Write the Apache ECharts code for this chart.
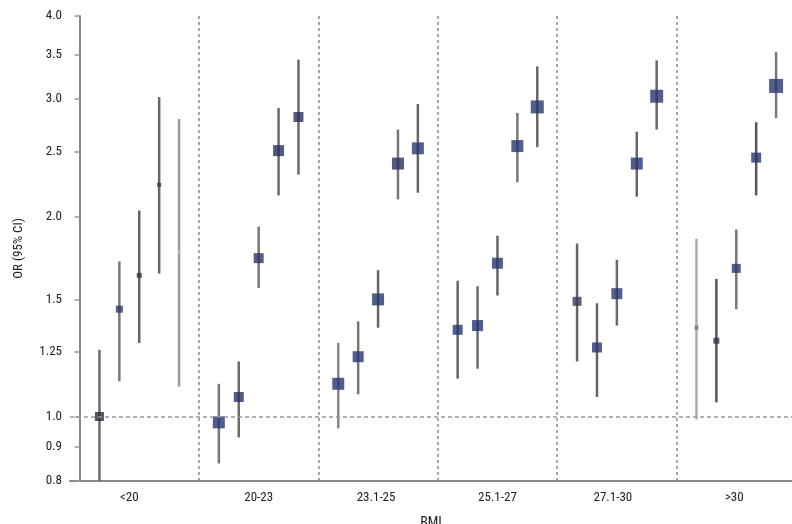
<!DOCTYPE html>
<html>
<head>
<meta charset="utf-8">
<script src="https://cdn.jsdelivr.net/npm/echarts@6/dist/echarts.min.js"></script>
<style>html,body{margin:0;padding:0;background:#fff;}#c{width:792px;height:524px;}</style>
</head>
<body>
<div id="c"></div>
<script>
// ---- data ----
var categories = ['<20', '20-23', '23.1-25', '25.1-27', '27.1-30', '>30'];
var orEst = [
  [1.00, 1.45, 1.63, 2.23, 1.77],
  [0.98, 1.07, 1.73, 2.51, 2.82],
  [1.12, 1.23, 1.50, 2.40, 2.53],
  [1.35, 1.37, 1.70, 2.55, 2.92],
  [1.49, 1.27, 1.53, 2.40, 3.03],
  [1.36, 1.30, 1.67, 2.45, 3.14]
];
var ciLow = [
  [0.80, 1.13, 1.29, 1.64, 1.11],
  [0.85, 0.93, 1.56, 2.15, 2.31],
  [0.96, 1.08, 1.36, 2.12, 2.17],
  [1.14, 1.18, 1.52, 2.25, 2.54],
  [1.21, 1.07, 1.37, 2.14, 2.70],
  [0.99, 1.05, 1.45, 2.15, 2.81]
];
var ciHigh = [
  [1.26, 1.71, 2.04, 3.02, 2.80],
  [1.12, 1.21, 1.93, 2.91, 3.44],
  [1.29, 1.39, 1.66, 2.70, 2.95],
  [1.60, 1.57, 1.87, 2.86, 3.36],
  [1.82, 1.48, 1.72, 2.68, 3.43],
  [1.85, 1.61, 1.91, 2.77, 3.53]
];
var yTicks = [0.8, 0.9, 1.0, 1.25, 1.5, 2.0, 2.5, 3.0, 3.5, 4.0];
var yTickLabels = ['0.8', '0.9', '1.0', '1.25', '1.5', '2.0', '2.5', '3.0', '3.5', '4.0'];
var referenceOR = 1.0;

// ---- styles (not data) ----
var markerSize = [
  [9, 7, 5, 4, 3],
  [12, 10, 10, 11, 10],
  [12, 11, 12, 12, 12],
  [10, 11, 11, 12, 13],
  [9, 10, 11, 12, 13],
  [4, 6, 9, 10, 14]
];
var navy = '#283670';
var markerColor = [
  ['#2b2b3a', '#33336a', '#3a3a4a', '#3a3a3a', '#c8c8c8'],
  [navy, '#2e2f66', '#2f3068', '#2b2f63', '#2e2e5e'],
  [navy, navy, navy, '#2a2f5e', navy],
  [navy, navy, navy, navy, navy],
  ['#363a55', navy, navy, navy, navy],
  ['#777777', '#333340', navy, navy, navy]
];
var lineColor = [
  ['#6a6a6a', '#777777', '#666666', '#666666', '#999999'],
  ['#777777', '#6a6a6a', '#777777', '#6a6a6a', '#6a6a6a'],
  ['#888888', '#777777', '#666666', '#777777', '#666666'],
  ['#666666', '#6a6a6a', '#666666', '#777777', '#6a6a6a'],
  ['#666666', '#666666', '#6a6a6a', '#666666', '#6a6a6a'],
  ['#aaaaaa', '#555555', '#777777', '#555555', '#777777']
];

var nPer = 5, groupSpan = 6;
function xPos(g, k) { return g * groupSpan + k + 1; }
var boundaries = [];
for (var b = 1; b < categories.length; b++) boundaries.push(b * groupSpan);
var catLabelPos = [2.5, 9, 14.9, 21, 26.8, 32.9];

var ciData = [], ptData = [];
for (var g = 0; g < categories.length; g++) {
  for (var k = 0; k < nPer; k++) {
    ciData.push({ value: [xPos(g, k), Math.log(ciLow[g][k]), Math.log(ciHigh[g][k])], g: g, k: k });
    ptData.push({
      value: [xPos(g, k), Math.log(orEst[g][k])],
      symbolSize: markerSize[g][k],
      itemStyle: { color: markerColor[g][k] }
    });
  }
}
var ciMeta = ciData.map(function (d) { return lineColor[d.g][d.k]; });

var font = "'Liberation Sans Narrow', 'Roboto Condensed', 'Liberation Sans', sans-serif";
var yLog = yTicks.map(function (v) { return Math.log(v); });

var chart = echarts.init(document.getElementById('c'), null, { renderer: 'canvas' });
chart.setOption({
  animation: false,
  backgroundColor: '#ffffff',
  grid: { left: 70, right: 0, top: 16, bottom: 43, containLabel: false, outerBoundsMode: 'none' },
  xAxis: {
    type: 'value',
    min: -0.48,
    max: 35.8,
    name: 'BMI',
    nameLocation: 'middle',
    nameGap: 35,
    nameTextStyle: { fontFamily: font, fontSize: 14, color: '#222' },
    splitLine: { show: false },
    axisLine: { show: true, onZero: false, lineStyle: { color: '#888', width: 2 } },
    axisTick: { show: false },
    axisLabel: {
      customValues: catLabelPos,
      fontFamily: font, fontSize: 13, color: '#222', margin: 10,
      formatter: function (v) {
        var best = 0;
        for (var j = 1; j < catLabelPos.length; j++) if (Math.abs(catLabelPos[j] - v) < Math.abs(catLabelPos[best] - v)) best = j;
        return categories[best];
      }
    }
  },
  yAxis: {
    type: 'value',
    min: Math.log(0.8),
    max: Math.log(4.0),
    name: 'OR (95% CI)',
    nameLocation: 'middle',
    nameGap: 45,
    nameRotate: 90,
    nameTextStyle: { fontFamily: font, fontSize: 13, color: '#222' },
    splitLine: { show: false },
    axisLine: { show: true, lineStyle: { color: '#888', width: 2 } },
    axisTick: { show: true, customValues: yLog, length: 5, lineStyle: { color: '#999', width: 1.5 } },
    axisLabel: {
      customValues: yLog,
      fontFamily: font, fontSize: 13, color: '#222', margin: 8,
      formatter: function (v) {
        var best = 0;
        for (var j = 1; j < yLog.length; j++) if (Math.abs(yLog[j] - v) < Math.abs(yLog[best] - v)) best = j;
        return yTickLabels[best];
      }
    }
  },
  series: [
    {
      type: 'custom',
      clip: true,
      data: ciData,
      encode: { x: 0, y: [1, 2] },
      renderItem: function (params, api) {
        var x = api.value(0);
        var p1 = api.coord([x, api.value(1)]);
        var p2 = api.coord([x, api.value(2)]);
        return {
          type: 'line',
          shape: { x1: p1[0], y1: p1[1], x2: p2[0], y2: p2[1] },
          style: { stroke: ciMeta[params.dataIndex], lineWidth: 2.5 }
        };
      },
      markLine: {
        silent: true,
        symbol: 'none',
        label: { show: false },
        lineStyle: { color: '#8a8a8a', type: [3, 3], width: 1.5 },
        data: boundaries.map(function (b) { return { xAxis: b }; }).concat([
          { yAxis: Math.log(referenceOR), lineStyle: { color: '#999', type: [4, 3], width: 1.5 } }
        ])
      },
      z: 2
    },
    {
      type: 'scatter',
      symbol: 'rect',
      data: ptData,
      z: 3
    }
  ]
});
</script>
</body>
</html>
